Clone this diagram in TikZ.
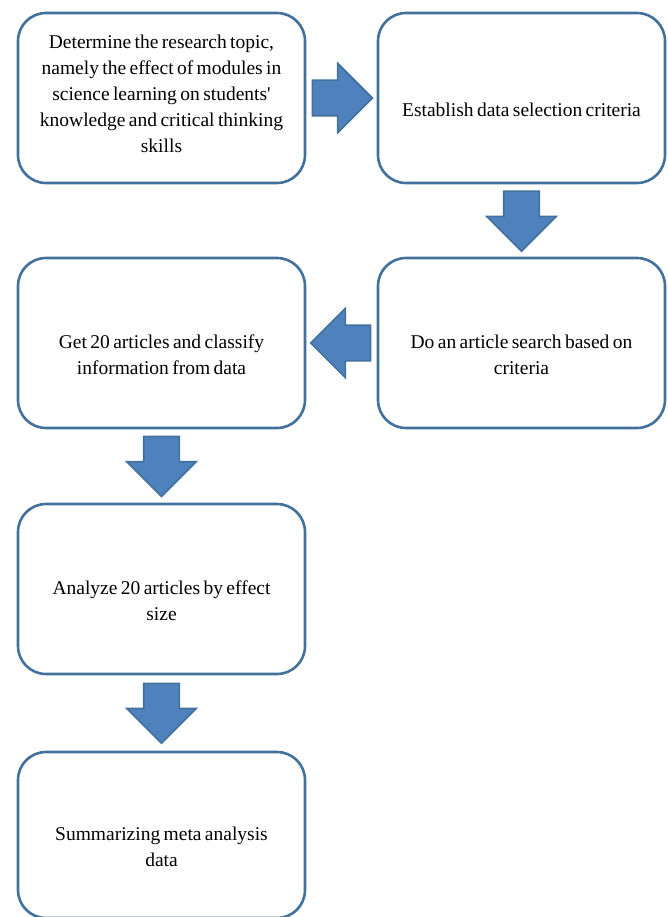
\documentclass[tikz,border=0pt]{standalone}
\usepackage{fontspec}
\setmainfont{Liberation Serif}[WordSpace=0.7]
\usetikzlibrary{positioning,shapes.arrows}
\definecolor{boxline}{HTML}{41719C}
\definecolor{arrowfill}{HTML}{4F81BD}
\begin{document}
\begin{tikzpicture}[main/.style = {draw=boxline, line width=2.6pt, rounded corners=28pt, minimum width=287pt, minimum height=170pt, outer sep=0pt},
    txt/.style = {text width=265pt, align=flush center, font=\fontsize{19.5}{26}\selectfont},
    bigarrow/.style = {single arrow, sloped, allow upside down, pos=0.39, draw=boxline, fill=arrowfill, line width=1.6pt, minimum height=60pt, minimum width=69pt, inner xsep=0pt, inner ysep=17pt, single arrow head extend=17pt},
    node distance=75pt and 73pt]
        \useasboundingbox (0,0) rectangle (668pt,-917pt);
        \node[main, label={[txt, yshift=4pt]center:Determine the research topic,\\namely the effect of modules in\\science learning on students\textquotesingle\\knowledge and critical thinking\\skills}] (0) at (161.5pt,-98pt) {};
        \node[main, label={[txt, yshift=-12pt]center:Establish data selection criteria}] (1) [right=of 0] {};
        \node[main, label={[txt, yshift=-12pt]center:Do an article search based on\\criteria}] (2) [below=of 1] {};
        \node[main, label={[txt, yshift=-12pt]center:Get 20 articles and classify\\information from data}] (3) [left=of 2] {};
        \node[main, label={[txt, yshift=-12pt]center:Analyze 20 articles by effect\\size}] (4) [below=76pt of 3] {};
        \node[main, minimum height=166pt, label={[txt, yshift=-12pt]center:Summarizing meta analysis\\data}] (5) [below=78pt of 4] {};
        \path (0) -- node[bigarrow] {} (1);
        \path (1) -- node[bigarrow] {} (2);
        \path (2) -- node[bigarrow] {} (3);
        \path (3) -- node[bigarrow] {} (4);
        \path (4) -- node[bigarrow] {} (5);
    \end{tikzpicture}
\end{document}
